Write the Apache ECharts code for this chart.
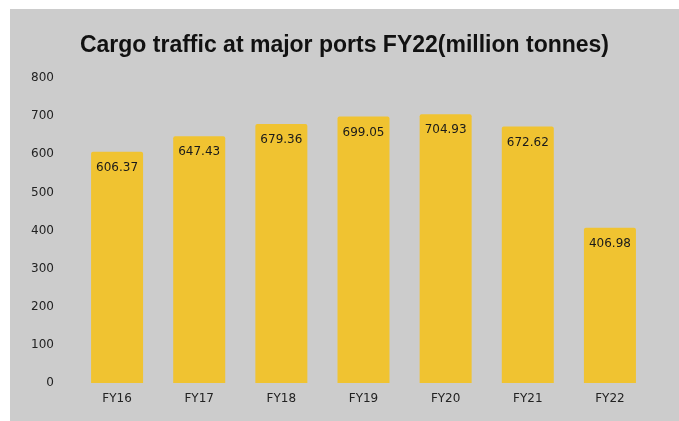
<!DOCTYPE html>
<html><head><meta charset="utf-8">
<script src="https://cdn.jsdelivr.net/npm/echarts@6/dist/echarts.min.js"></script>
<style>
html,body{margin:0;padding:0;background:#fff;width:679px;height:421px;overflow:hidden;}
#c{position:absolute;left:10px;top:9px;width:669px;height:412px;background:#cccccc;}
</style></head><body>
<div id="c"></div>
<script>
const categories = ["FY16","FY17","FY18","FY19","FY20","FY21","FY22"];
const cargo = [606.37, 647.43, 679.36, 699.05, 704.93, 672.62, 406.98];
const yTicks = [0, 100, 200, 300, 400, 500, 600, 700, 800];

const chart = echarts.init(document.getElementById('c'));
chart.setOption({
  backgroundColor: '#cccccc',
  animation: false,
  title: {
    text: 'Cargo traffic at major ports FY22(million tonnes)',
    left: 'center', top: 20,
    textStyle: {fontFamily: 'Liberation Sans', fontWeight: 'bold', fontSize: 23, color: '#111'}
  },
  grid: {left: 66, right: 28, top: 69, bottom: 38},
  xAxis: {
    type: 'category', data: categories,
    axisLine: {show: false}, axisTick: {show: false},
    axisLabel: {fontFamily: 'DejaVu Sans', fontSize: 12, color: '#222', margin: 10}
  },
  yAxis: {
    type: 'value', min: yTicks[0], max: yTicks[yTicks.length-1], interval: 100,
    splitLine: {show: false}, axisLine: {show: false}, axisTick: {show: false},
    axisLabel: {fontFamily: 'DejaVu Sans', fontSize: 12, color: '#222', margin: 22, padding: [4, 0, 0, 0]}
  },
  series: [{
    type: 'bar', data: cargo, barWidth: 52,
    itemStyle: {color: '#f0c331', borderRadius: [2,2,0,0]},
    label: {show: true, position: 'insideTop', distance: 10, fontFamily: 'DejaVu Sans', fontSize: 12, color: '#1a1a1a',
      formatter: p => p.value.toFixed(2)}
  }]
});
</script>
</body></html>
